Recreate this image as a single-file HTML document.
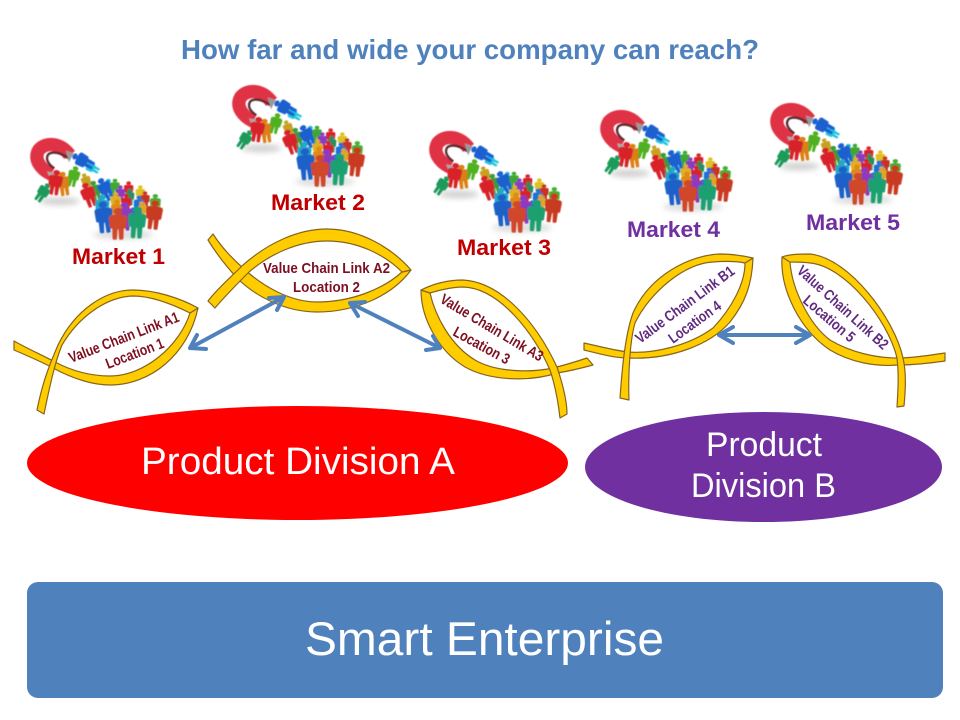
<!DOCTYPE html>
<html>
<head>
<meta charset="utf-8">
<style>
html,body{margin:0;padding:0;background:#fff;width:960px;height:720px;overflow:hidden}
svg{display:block}
text{font-family:"Liberation Sans",sans-serif}
.rib{fill:#FFCC00;stroke:#86641c;stroke-width:1.2;stroke-linejoin:round}
.arr{fill:none;stroke:#4F81BD;stroke-width:4;stroke-linecap:round;stroke-linejoin:round}
.mk{font-weight:bold;font-size:22px}
.a{fill:#C00000}
.b{fill:#7030A0}
.vA{font-weight:bold;font-size:15px;fill:#7D0F22}
.vB{font-weight:bold;font-size:15px;fill:#5F2A80}
.w{fill:#fff}
</style>
</head>
<body>
<svg width="960" height="720" viewBox="0 0 960 720" xmlns="http://www.w3.org/2000/svg">
<defs>
<filter id="soft" x="-10%" y="-10%" width="120%" height="120%"><feGaussianBlur stdDeviation="1.5"/></filter>
<filter id="sh" x="-50%" y="-50%" width="200%" height="200%"><feGaussianBlur stdDeviation="9"/></filter>
<g id="p">
<g transform="scale(1.3 1)">
<circle cx="0" cy="-39" r="10.5" fill="currentColor"/>
<path fill="currentColor" d="M-17-27Q0-32 17-27Q22-25 22-18L20 12Q19 17 14 15L13 48Q12 52 3 50L1 18L-1 18L-3 50Q-12 52-13 48L-14 15Q-19 17-20 12L-22-18Q-22-25-17-27Z"/>
</g>
</g>
<g id="icon" transform="scale(.3333)">
<ellipse cx="110" cy="205" rx="60" ry="12" fill="#aaa" opacity=".55" filter="url(#sh)"/>
<ellipse cx="300" cy="305" rx="90" ry="14" fill="#aaa" opacity=".4" filter="url(#sh)"/>
<g filter="url(#soft)">
<path d="M140 66C115 32 72 24 48 50C30 78 52 108 85 124" fill="none" stroke="#E03344" stroke-width="40"/>
<path d="M136 76C112 58 88 54 76 64C66 78 76 94 94 106" fill="none" stroke="#5a2a30" stroke-width="7"/>
<path d="M128 52L152 60L138 88Z" fill="#999"/>
<path d="M72 115L98 120L84 144Z" fill="#aaa"/>
<use href="#p" color="#20C4E0" transform="translate(205 103) rotate(-62) scale(.5)"/>
<use href="#p" color="#1A60D0" transform="translate(180 83) rotate(-62) scale(.7)"/>
<use href="#p" color="#1A9A5A" transform="translate(60 178) rotate(35) scale(.62)"/>
<use href="#p" color="#D98018" transform="translate(122 152) rotate(-8) scale(.72)"/>
<use href="#p" color="#D8202A" transform="translate(97 148) rotate(8) scale(.75)"/>
<use href="#p" color="#50B020" transform="translate(152 130) rotate(14) scale(.62)"/>
<use href="#p" color="#C8A020" transform="translate(190 145) rotate(-20) scale(.5)"/>
<use href="#p" color="#3D9A3A" transform="translate(217 175) rotate(-15) scale(.65)"/>
<use href="#p" color="#D8202A" transform="translate(197 185) rotate(-20) scale(.75)"/>
<use href="#p" color="#20B0D8" transform="translate(256 165) scale(.55)"/>
<use href="#p" color="#1A60D0" transform="translate(248 168) rotate(-30) scale(.72)"/>
<use href="#p" color="#40A830" transform="translate(276 162) scale(.5)"/>
<use href="#p" color="#D8202A" transform="translate(317 170) scale(.5)"/>
<use href="#p" color="#8A3AC0" transform="translate(292 182) scale(.5)"/>
<use href="#p" color="#E0C020" transform="translate(352 182) scale(.5)"/>
<use href="#p" color="#40B030" transform="translate(397 212) scale(.58)"/>
<use href="#p" color="#C83020" transform="translate(366 200) scale(.5)"/>
<use href="#p" color="#209060" transform="translate(320 192) scale(.5)"/>
<use href="#p" color="#D8202A" transform="translate(310 210) scale(.55)"/>
<use href="#p" color="#E0B020" transform="translate(278 205) scale(.55)"/>
<use href="#p" color="#1A70D8" transform="translate(348 215) scale(.55)"/>
<use href="#p" color="#E0A820" transform="translate(356 232) scale(.55)"/>
<use href="#p" color="#20A8C8" transform="translate(238 222) scale(.75)"/>
<use href="#p" color="#E08A18" transform="translate(282 232) scale(.65)"/>
<use href="#p" color="#1A70D8" transform="translate(340 240) scale(.6)"/>
<use href="#p" color="#8A3AC0" transform="translate(305 250) scale(.85)"/>
<use href="#p" color="#1A60C8" transform="translate(243 252) rotate(-5) scale(.95)"/>
<use href="#p" color="#C83A20" transform="translate(393 245) rotate(6) scale(.88)"/>
<use href="#p" color="#D0462A" transform="translate(285 272) scale(.95)"/>
<use href="#p" color="#1FA070" transform="translate(342 268) rotate(3) scale(.95)"/>
</g>
</g>
</defs>

<rect width="960" height="720" fill="#fff"/>

<text x="181" y="59" font-size="28" font-weight="bold" fill="#4F81BD" textLength="578" lengthAdjust="spacingAndGlyphs">How far and wide your company can reach?</text>

<use href="#icon" transform="translate(23 133)"/>
<use href="#icon" transform="translate(225 80)"/>
<use href="#icon" transform="translate(422 126)"/>
<use href="#icon" transform="translate(593 105)"/>
<use href="#icon" transform="translate(763 98)"/>

<text class="mk a" x="72" y="264" textLength="93" lengthAdjust="spacingAndGlyphs">Market 1</text>
<text class="mk a" x="271" y="210" textLength="94" lengthAdjust="spacingAndGlyphs">Market 2</text>
<text class="mk a" x="457" y="255" textLength="94" lengthAdjust="spacingAndGlyphs">Market 3</text>
<text class="mk b" x="627" y="237" textLength="93" lengthAdjust="spacingAndGlyphs">Market 4</text>
<text class="mk b" x="806" y="230" textLength="94" lengthAdjust="spacingAndGlyphs">Market 5</text>

<!-- Fish 1 -->
<path class="rib" d="M14 341L14 350C28 356 42 362 53 368C75 380 95 385 110 385C150 385 188 355 198 308L190 313C180 345 145 376 110 376C90 376 72 371 55 362C42 355 28 349 14 341Z"/>
<path class="rib" d="M37 410C42 385 48 368 58 345C75 310 105 290 133 290C155 290 180 298 198 308L190 313C170 303 150 296 133 296C105 297 78 318 62 345C55 362 50 385 44 414Z"/>
<!-- Fish 2 -->
<path class="rib" d="M213 234C222 248 232 258 243 268C262 286 290 302 317 302C350 302 382 290 402 272L411 270C392 296 355 312 317 312C285 312 255 296 237 278C226 266 216 253 208 240Z"/>
<path class="rib" d="M208 301C218 288 230 278 243 265C268 243 298 229 327 229C360 229 392 248 411 270L402 272C385 255 358 241 327 241C298 241 270 254 249 272C238 283 226 295 215 308Z"/>
<!-- Fish 3 -->
<path class="rib" d="M421 290C421 320 440 352 465 367C490 381 530 382 557 373C570 371 582 368 593 365L587 358C575 362 565 365 553 368C530 373 495 372 475 360C450 345 435 315 430 293Z"/>
<path class="rib" d="M421 290C435 283 450 280 463 280C500 282 535 320 557 367C562 382 567 400 567 414L560 418C558 400 555 385 550 370C535 335 500 288 463 287C452 287 440 290 430 293Z"/>
<!-- Fish 4 -->
<path class="rib" d="M584 343L584 350C600 354 615 358 628 358C670 360 710 345 730 322C745 303 752 285 753 258L745 263C745 285 730 310 713 328C690 345 655 354 628 352C612 350 598 346 584 343Z"/>
<path class="rib" d="M753 258C740 255 730 254 720 254C690 255 650 275 633 313C625 335 622 370 620 398L629 400C628 375 630 340 635 323C650 292 685 263 713 262C725 261 735 261 745 263Z"/>
<!-- Fish 5 -->
<path class="rib" d="M782 257C780 290 800 330 830 350C850 362 875 367 898 365C915 365 930 363 945 361L945 353C930 355 915 358 898 358C875 358 850 352 830 340C810 325 792 290 790 262Z"/>
<path class="rib" d="M782 257C790 254 800 254 810 254C850 258 895 320 903 358C907 375 905 395 904 406L897 407C898 390 899 375 897 358C888 320 845 266 810 263C803 262 796 262 790 262Z"/>

<!-- Fish labels -->
<text class="vA" transform="translate(71 363) rotate(-21)" textLength="117" lengthAdjust="spacingAndGlyphs">Value Chain Link A1</text>
<text class="vA" transform="translate(108 369) rotate(-21)" textLength="61" lengthAdjust="spacingAndGlyphs">Location 1</text>
<text class="vA" x="263" y="273" textLength="127" lengthAdjust="spacingAndGlyphs">Value Chain Link A2</text>
<text class="vA" x="293" y="292" textLength="67" lengthAdjust="spacingAndGlyphs">Location 2</text>
<text class="vA" transform="translate(439 302) rotate(30.7)" textLength="117" lengthAdjust="spacingAndGlyphs">Value Chain Link A3</text>
<text class="vA" transform="translate(452 335) rotate(28.6)" textLength="62" lengthAdjust="spacingAndGlyphs">Location 3</text>
<text class="vB" transform="translate(640 344) rotate(-36.5)" textLength="119" lengthAdjust="spacingAndGlyphs">Value Chain Link B1</text>
<text class="vB" transform="translate(673 344) rotate(-36)" textLength="61" lengthAdjust="spacingAndGlyphs">Location 4</text>
<text class="vB" transform="translate(796 272) rotate(42)" textLength="117" lengthAdjust="spacingAndGlyphs">Value Chain Link B2</text>
<text class="vB" transform="translate(802 302) rotate(40.5)" textLength="63" lengthAdjust="spacingAndGlyphs">Location 5</text>

<!-- Arrows -->
<path class="arr" d="M190 348L284 297M197 335L190 348L206 349M269 298L284 297L277 310"/>
<path class="arr" d="M350 303L440 348M365 302L350 303L358 316M426 350L440 348L433 336"/>
<path class="arr" d="M719 335L810 335M733 327L719 335L733 343M796 327L810 335L796 343"/>

<!-- Divisions -->
<ellipse cx="297.5" cy="463" rx="270.5" ry="57" fill="#FF0000"/>
<ellipse cx="763.5" cy="467" rx="178.5" ry="55" fill="#7030A0"/>
<text class="w" x="141" y="474" font-size="38" textLength="314" lengthAdjust="spacingAndGlyphs">Product Division A</text>
<text class="w" x="706" y="456" font-size="34" textLength="116" lengthAdjust="spacingAndGlyphs">Product</text>
<text class="w" x="691" y="497" font-size="34" textLength="145" lengthAdjust="spacingAndGlyphs">Division B</text>

<rect x="27" y="582" width="916" height="116" rx="11" ry="11" fill="#4F81BD"/>
<text class="w" x="305" y="655" font-size="47" textLength="359" lengthAdjust="spacingAndGlyphs">Smart Enterprise</text>
</svg>
</body>
</html>
